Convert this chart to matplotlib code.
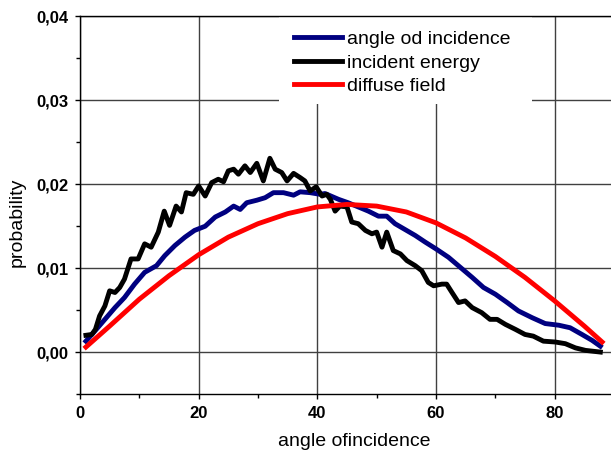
import matplotlib
matplotlib.use('Agg')
import matplotlib.pyplot as plt
from matplotlib.patches import Rectangle
from matplotlib.ticker import MultipleLocator

plt.rcParams['font.family'] = ['Liberation Sans', 'DejaVu Sans']

# angle od incidence (blue)
angle_x = [1.0, 2.5, 4.2, 5.9, 7.5, 9.2, 10.9, 12.9, 14.3, 16.0, 17.7, 19.3,
           21.1, 22.8, 24.5, 25.9, 27.0, 28.1, 29.8, 31.2, 32.6, 34.3, 36.0,
           37.1, 38.8, 40.5, 41.3, 43.6, 45.2, 46.9, 48.6, 50.3, 51.7, 53.1,
           54.8, 56.5, 58.2, 60.0, 62.1, 64.1, 66.1, 68.0, 70.0, 72.0, 73.9,
           76.2, 78.4, 80.7, 82.6, 84.6, 86.3, 87.7]
angle_y = [0.0013, 0.0025, 0.0039, 0.0053, 0.0065, 0.0081, 0.0095, 0.0103,
           0.0115, 0.0127, 0.0137, 0.0145, 0.0150, 0.0161, 0.0167, 0.0174,
           0.0170, 0.0178, 0.0181, 0.0184, 0.0190, 0.0190, 0.0187, 0.0191,
           0.0190, 0.0188, 0.0189, 0.0182, 0.0178, 0.0173, 0.0168, 0.0162,
           0.0162, 0.0153, 0.0146, 0.0139, 0.0131, 0.0123, 0.0113, 0.0101,
           0.0089, 0.0077, 0.0069, 0.0059, 0.0049, 0.0041, 0.0034, 0.0032,
           0.0029, 0.0021, 0.0014, 0.0007]

# incident energy (black)
energy_x = [1.0, 2.0, 2.6, 3.3, 4.2, 5.0, 5.9, 6.7, 7.5, 8.6, 9.8, 10.9, 12.0,
            13.2, 14.2, 15.1, 16.2, 17.1, 17.9, 19.1, 20.0, 21.1, 22.2, 23.3,
            24.2, 25.0, 25.9, 26.7, 27.8, 28.7, 29.8, 30.9, 32.0, 32.9, 34.0,
            34.9, 36.0, 37.1, 37.9, 38.8, 39.8, 40.8, 41.6, 42.2, 43.0, 43.8,
            45.0, 45.8, 46.9, 48.1, 49.2, 50.0, 50.9, 51.7, 52.8, 54.0, 55.1,
            56.5, 57.6, 58.7, 59.6, 61.0, 61.8, 62.7, 63.8, 64.9, 66.1, 67.7,
            69.1, 70.3, 71.7, 73.4, 75.0, 76.4, 78.1, 80.1, 81.8, 83.5, 85.2,
            87.7]
energy_y = [0.0020, 0.0021, 0.0027, 0.0043, 0.0055, 0.0073, 0.0071, 0.0077,
            0.0087, 0.0111, 0.0111, 0.0129, 0.0125, 0.0143, 0.0168, 0.0151,
            0.0174, 0.0167, 0.0190, 0.0188, 0.0198, 0.0186, 0.0202, 0.0206,
            0.0203, 0.0216, 0.0218, 0.0212, 0.0222, 0.0214, 0.0225, 0.0204,
            0.0231, 0.0218, 0.0214, 0.0204, 0.0213, 0.0208, 0.0204, 0.0192,
            0.0197, 0.0186, 0.0188, 0.0182, 0.0168, 0.0174, 0.0173, 0.0155,
            0.0153, 0.0145, 0.0141, 0.0143, 0.0125, 0.0143, 0.0121, 0.0117,
            0.0109, 0.0103, 0.0097, 0.0083, 0.0079, 0.0081, 0.0081, 0.0071,
            0.0059, 0.0061, 0.0053, 0.0047, 0.0039, 0.0039, 0.0033, 0.0027,
            0.0021, 0.0019, 0.0013, 0.0012, 0.0010, 0.0005, 0.0002, 0.0000]

# diffuse field (red)
diffuse_x = [1, 5, 10, 15, 20, 25, 30, 35, 40, 45, 50, 55, 60, 65, 70, 75,
             80, 85, 88]
diffuse_y = [0.0006, 0.0031, 0.0063, 0.0091, 0.0116, 0.0137, 0.0153, 0.0165,
             0.0173, 0.0176, 0.0174, 0.0167, 0.0154, 0.0136, 0.0114, 0.0089,
             0.0061, 0.0031, 0.0012]

x_ticks = [0, 20, 40, 60, 80]
x_tick_labels = ['0', '20', '40', '60', '80']
y_ticks = [0.00, 0.01, 0.02, 0.03, 0.04]
y_tick_labels = ['0,00', '0,01', '0,02', '0,03', '0,04']

fig = plt.figure(figsize=(6.11, 4.53), dpi=100)
ax = fig.add_axes([0.1309, 0.1302, 0.874, 0.8334])

ax.plot(angle_x, angle_y, color='#000080', lw=3.5, solid_joinstyle='round',
        label='angle od incidence', zorder=3)
ax.plot(energy_x, energy_y, color='black', lw=3.5, solid_joinstyle='round',
        label='incident energy', zorder=3)
ax.plot(diffuse_x, diffuse_y, color='#ff0000', lw=3.5, solid_joinstyle='round',
        label='diffuse field', zorder=3)

ax.set_xlim(0, 90)
ax.set_ylim(-0.005, 0.04)
ax.set_xticks(x_ticks)
ax.set_xticklabels(x_tick_labels)
ax.set_yticks(y_ticks)
ax.set_yticklabels(y_tick_labels)
ax.xaxis.set_minor_locator(MultipleLocator(10))
ax.yaxis.set_minor_locator(MultipleLocator(0.005))
ax.tick_params(which='major', direction='out', length=3.6, width=1,
               labelsize=12, pad=5)
ax.tick_params(which='minor', direction='out', length=3, width=1)
for lab in ax.get_xticklabels() + ax.get_yticklabels():
    lab.set_fontweight('bold')

ax.set_axisbelow(True)
ax.grid(True, which='major', color='#404040', lw=1)
ax.spines['right'].set_visible(False)
for s in ['left', 'top', 'bottom']:
    ax.spines[s].set_linewidth(1)

# white box behind the legend hides the grid
ax.add_patch(Rectangle((0.373, 0.768), 0.473, 0.232, transform=ax.transAxes,
                       facecolor='white', edgecolor='none', zorder=1))
ax.legend(loc='upper left', bbox_to_anchor=(0.401, 0.963), frameon=False,
          fontsize=14, borderpad=0, borderaxespad=0, handlelength=2.45,
          handletextpad=0.25, labelspacing=0.3)

ax.set_xlabel('angle ofincidence', fontsize=14)
ax.set_ylabel('probability', fontsize=14)
ax.xaxis.set_label_coords(0.513, -0.103)
ax.yaxis.set_label_coords(-0.102, 0.456)

fig.savefig('out.png', dpi=100)
